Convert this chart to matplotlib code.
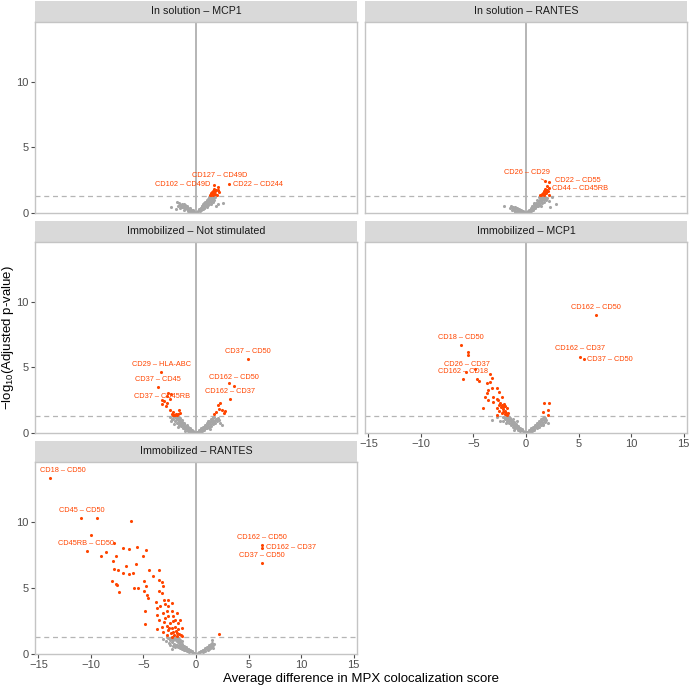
import math
import matplotlib
matplotlib.use("Agg")
import matplotlib.pyplot as plt

plt.rcParams['font.family'] = ['Liberation Sans', 'DejaVu Sans']
plt.rcParams['mathtext.fontset'] = 'custom'
plt.rcParams['mathtext.rm'] = 'Liberation Sans'
plt.rcParams['mathtext.it'] = 'Liberation Sans:italic'

# ---------------- data ----------------
PANEL_TITLES = ["In solution – MCP1", "In solution – RANTES",
                "Immobilized – Not stimulated", "Immobilized – MCP1",
                "Immobilized – RANTES"]
X_TICKS = [-15, -10, -5, 0, 5, 10, 15]
Y_TICKS = [0, 5, 10]
P_THRESHOLD = 0.05

# Panel 1: In solution – MCP1
SOL_MCP1_GREY = [(-0.1, 0.03), (-0.2, 0.08), (-0.3, 0.12), (-0.35, 0.05), (-0.4, 0.15), (-0.5, 0.2), (-0.5, 0.1),
                 (-0.6, 0.15), (-0.65, 0.28), (-0.7, 0.33), (-0.75, 0.22), (-0.8, 0.35), (-0.9, 0.4), (-0.9, 0.28),
                 (-1.0, 0.45), (-1.05, 0.35), (-1.1, 0.5), (-1.2, 0.55), (-1.2, 0.42), (-1.3, 0.6), (-1.4, 0.5),
                 (-1.55, 0.62), (-1.8, 0.85), (-1.9, 0.3), (-2.4, 0.48),
                 (-0.3, 0.2), (-0.45, 0.25), (-0.6, 0.35), (-0.85, 0.5), (-1.0, 0.6), (-1.15, 0.65), (-1.35, 0.7),
                 (-1.5, 0.4), (-1.7, 0.55), (-0.25, 0.15), (-0.55, 0.05), (-0.8, 0.12), (-1.1, 0.25), (-1.3, 0.45),
                 (-1.6, 0.75),
                 (0.1, 0.05), (0.2, 0.12), (0.3, 0.2), (0.35, 0.12), (0.4, 0.28), (0.5, 0.35), (0.5, 0.2),
                 (0.6, 0.42), (0.65, 0.3), (0.7, 0.5), (0.8, 0.58), (0.8, 0.4), (0.8, 0.8), (0.9, 0.66),
                 (0.95, 0.5), (1.0, 0.75), (1.0, 1.0), (1.1, 0.85), (1.1, 0.6), (1.2, 0.95), (1.2, 1.2),
                 (1.25, 0.72), (1.3, 1.05), (1.4, 1.15), (1.4, 0.85), (1.5, 1.25), (1.55, 0.95), (1.6, 1.1),
                 (1.7, 1.2), (1.9, 0.55), (2.1, 0.7), (2.6, 0.8),
                 (0.25, 0.25), (0.45, 0.4), (0.55, 0.5), (0.7, 0.65), (0.85, 0.7), (1.05, 0.9), (1.15, 1.05),
                 (1.3, 1.25), (1.35, 0.95), (1.5, 1.05), (1.6, 1.25), (1.75, 1.0), (1.45, 0.7), (0.6, 0.55),
                 (0.75, 0.35), (0.9, 0.85), (1.0, 0.45), (0.3, 0.3), (1.65, 0.85), (1.8, 1.25)]
SOL_MCP1_SIG = [(1.3, 1.35), (1.4, 1.4), (1.5, 1.45), (1.45, 1.5), (1.6, 1.5), (1.7, 1.55), (1.55, 1.6),
                (1.8, 1.65), (1.65, 1.7), (1.9, 1.75), (2.1, 1.75), (1.75, 1.8), (1.6, 1.35), (1.8, 1.45),
                (2.2, 1.6), (2.0, 1.4)]
SOL_MCP1_LABELED = [("CD127 – CD49D", 1.74, 2.14), ("CD102 – CD49D", 2.06, 1.96), ("CD22 – CD244", 3.14, 2.21)]

# Panel 2: In solution – RANTES
SOL_RANTES_GREY = [(-0.1, 0.02), (-0.2, 0.05), (-0.3, 0.08), (-0.4, 0.1), (-0.5, 0.15), (-0.6, 0.18), (-0.7, 0.22),
                   (-0.8, 0.25), (-0.9, 0.3), (-1.0, 0.33), (-1.1, 0.38), (-1.2, 0.42), (-1.3, 0.45), (-1.4, 0.5),
                   (-0.7, 0.1), (-0.9, 0.15), (-1.1, 0.2), (-1.25, 0.3), (-1.5, 0.35), (-2.07, 0.53), (-1.0, 0.05),
                   (-0.25, 0.12), (-0.45, 0.2), (-0.65, 0.3), (-0.85, 0.35), (-1.05, 0.45), (-1.3, 0.2),
                   (-0.55, 0.05),
                   (0.1, 0.05), (0.2, 0.12), (0.3, 0.18), (0.4, 0.25), (0.5, 0.32), (0.6, 0.4), (0.7, 0.48),
                   (0.8, 0.55), (0.9, 0.63), (1.0, 0.7), (1.1, 0.8), (1.2, 0.9), (1.3, 1.0), (1.4, 1.1),
                   (1.5, 1.2), (0.5, 0.15), (0.7, 0.25), (0.9, 0.35), (1.1, 0.5), (1.3, 0.6), (1.5, 0.75),
                   (1.7, 0.85), (1.9, 1.0), (1.6, 1.05), (1.8, 1.2), (1.2, 1.2), (1.0, 1.0), (2.2, 0.95),
                   (2.45, 1.2), (2.3, 0.45), (2.9, 0.7), (0.8, 0.8),
                   (0.25, 0.25), (0.45, 0.4), (0.6, 0.55), (0.75, 0.65), (0.95, 0.8), (1.15, 0.95), (1.35, 1.15),
                   (1.45, 0.9), (1.65, 1.2), (1.25, 0.75), (1.05, 0.55), (0.85, 0.45), (0.65, 0.3), (1.4, 0.5),
                   (1.75, 1.05), (2.0, 1.15), (1.55, 1.0), (0.35, 0.1)]
SOL_RANTES_SIG = [(1.35, 1.35), (1.45, 1.4), (1.55, 1.45), (1.7, 1.4), (1.6, 1.55), (1.8, 1.55), (1.9, 1.6),
                  (1.7, 1.7), (2.0, 1.75), (1.85, 1.8), (2.1, 1.65), (1.95, 1.5), (2.2, 1.4), (1.97, 2.06)]
SOL_RANTES_LABELED = [("CD26 – CD29", 1.81, 2.47), ("CD22 – CD55", 2.19, 2.37), ("CD44 – CD45RB", 2.22, 1.91)]

# Panel 3: Immobilized – Not stimulated
IMM_NS_GREY = [(-0.1, 0.03), (-0.2, 0.07), (-0.3, 0.12), (-0.4, 0.16), (-0.5, 0.2), (-0.6, 0.25), (-0.7, 0.3),
               (-0.8, 0.36), (-0.9, 0.42), (-1.0, 0.48), (-1.1, 0.55), (-1.2, 0.62), (-1.3, 0.7), (-1.4, 0.78),
               (-1.5, 0.86), (-1.6, 0.95), (-1.7, 1.05), (-1.8, 1.15), (-1.9, 1.25), (-2.0, 1.2), (-2.2, 1.28),
               (-0.6, 0.1), (-0.8, 0.18), (-1.0, 0.28), (-1.2, 0.38), (-1.4, 0.5), (-1.6, 0.62), (-1.8, 0.75),
               (-2.0, 0.9), (-2.3, 1.05), (-1.3, 1.0), (-1.5, 1.15), (-1.1, 0.8), (-2.5, 1.2), (-0.9, 0.6),
               (-0.35, 0.25), (-0.55, 0.35), (-0.75, 0.45), (-0.95, 0.55), (-1.15, 0.7), (-1.35, 0.85),
               (-1.55, 1.0), (-1.75, 1.2), (-1.65, 0.8), (-1.45, 0.65), (-1.25, 0.5), (-1.05, 0.4), (-0.85, 0.28),
               (-1.95, 1.0), (-2.15, 1.1), (-2.1, 0.7), (-1.75, 0.45), (-2.4, 0.95), (-1.0, 0.15),
               (0.1, 0.04), (0.2, 0.1), (0.3, 0.15), (0.4, 0.2), (0.5, 0.26), (0.6, 0.32), (0.7, 0.38),
               (0.8, 0.45), (0.9, 0.52), (1.0, 0.6), (1.1, 0.68), (1.2, 0.76), (1.3, 0.85), (1.4, 0.94),
               (1.5, 1.03), (1.6, 1.12), (1.7, 1.22), (0.6, 0.15), (0.8, 0.25), (1.0, 0.35), (1.2, 0.45),
               (1.4, 0.55), (1.6, 0.65), (1.8, 0.78), (2.0, 0.9), (2.2, 1.0), (1.9, 1.1), (1.1, 0.95),
               (2.3, 0.8), (2.5, 0.6),
               (0.25, 0.22), (0.45, 0.35), (0.65, 0.48), (0.85, 0.6), (1.05, 0.75), (1.25, 0.9), (1.45, 1.05),
               (1.65, 1.25), (1.55, 0.85), (1.35, 0.7), (1.15, 0.55), (0.95, 0.4), (0.75, 0.3), (1.75, 0.95),
               (1.95, 1.0), (2.1, 1.15), (1.3, 0.3), (0.5, 0.1)]
IMM_NS_SIG = [(-2.8, 2.85), (-3.2, 2.52), (-3.01, 2.42), (-2.79, 2.31), (-3.27, 2.21), (-2.9, 2.06),
              (-2.48, 1.76), (-2.17, 1.63), (-1.66, 1.76), (-2.33, 1.45), (-2.0, 1.37), (-1.7, 1.43),
              (-1.54, 1.5), (-2.1, 1.4), (-1.9, 1.45), (-1.8, 1.35), (-2.2, 1.35), (-2.5, 2.6), (-2.4, 3.0),
              (3.62, 3.61), (2.29, 2.31), (2.06, 2.11), (2.19, 1.81), (2.44, 1.76), (1.9, 1.63), (2.79, 1.68),
              (1.71, 1.45), (2.67, 1.5)]
IMM_NS_LABELED = [("CD29 – HLA-ABC", -3.33, 4.63), ("CD37 – CD45", -3.62, 3.54), ("CD37 – CD45RB", -2.64, 3.08),
                  ("CD37 – CD50", 4.92, 5.62), ("CD162 – CD50", 3.11, 3.82), ("CD162 – CD37", 3.24, 2.57)]

# Panel 4: Immobilized – MCP1
IMM_MCP1_GREY = [(-0.1, 0.04), (-0.2, 0.1), (-0.3, 0.15), (-0.4, 0.2), (-0.5, 0.27), (-0.6, 0.33), (-0.7, 0.4),
                 (-0.8, 0.47), (-0.9, 0.55), (-1.0, 0.63), (-1.1, 0.72), (-1.2, 0.8), (-1.3, 0.9), (-1.4, 1.0),
                 (-1.5, 1.1), (-1.6, 1.2), (-1.7, 1.28), (-0.6, 0.15), (-0.8, 0.25), (-1.0, 0.35), (-1.2, 0.48),
                 (-1.4, 0.6), (-1.6, 0.75), (-1.8, 0.9), (-2.0, 1.05), (-2.2, 1.2), (-1.9, 1.25), (-1.2, 1.1),
                 (-2.79, 1.2), (-3.27, 1.0), (-2.5, 0.9), (-0.9, 0.9),
                 (-0.35, 0.28), (-0.55, 0.4), (-0.75, 0.52), (-0.95, 0.65), (-1.15, 0.82), (-1.35, 0.95),
                 (-1.55, 1.15), (-1.75, 1.1), (-1.45, 0.8), (-1.25, 0.65), (-1.05, 0.5), (-0.85, 0.38),
                 (-1.65, 0.95), (-1.85, 1.05), (-2.05, 1.25), (-1.95, 0.8), (-1.1, 0.2), (-2.2, 0.95),
                 (0.1, 0.04), (0.2, 0.1), (0.3, 0.15), (0.4, 0.2), (0.5, 0.26), (0.6, 0.32), (0.7, 0.39),
                 (0.8, 0.46), (0.9, 0.53), (1.0, 0.6), (1.1, 0.68), (1.2, 0.77), (1.3, 0.86), (1.4, 0.95),
                 (1.5, 1.05), (1.6, 1.15), (0.6, 0.15), (0.8, 0.25), (1.0, 0.35), (1.2, 0.45), (1.4, 0.58),
                 (1.6, 0.7), (1.8, 0.85), (1.95, 1.0), (1.7, 1.2), (2.1, 0.75),
                 (0.25, 0.22), (0.45, 0.35), (0.65, 0.48), (0.85, 0.6), (1.05, 0.75), (1.25, 0.9), (1.45, 1.05),
                 (1.55, 0.85), (1.35, 0.7), (1.15, 0.55), (0.95, 0.42), (0.75, 0.3), (1.75, 1.0), (1.85, 1.15),
                 (1.65, 0.6), (0.4, 0.05)]
IMM_MCP1_SIG = [(-5.49, 6.16), (-5.55, 5.95), (-5.97, 4.1), (-4.63, 4.1), (-4.44, 3.97), (-3.43, 4.5), (-3.2, 4.17),
                (-3.43, 3.92), (-3.74, 3.84), (-3.65, 3.28), (-3.27, 3.41), (-2.79, 3.41), (-2.54, 3.15),
                (-3.74, 3.03), (-3.9, 2.77), (-3.11, 2.77), (-2.79, 2.6), (-2.25, 2.77), (-4.06, 1.88),
                (-3.59, 2.52), (-3.11, 2.39), (-2.63, 2.52), (-2.48, 2.27), (-2.32, 2.14), (-2.16, 1.96),
                (-2.0, 2.06), (-2.73, 1.88), (-1.84, 1.88), (-2.54, 1.7), (-2.16, 1.63), (-1.97, 1.7),
                (-2.32, 1.5), (-2.0, 1.45), (-1.75, 1.55), (-2.79, 1.37), (-1.84, 1.37), (-2.2, 1.8),
                (-2.4, 1.95), (-2.1, 2.2), (-1.9, 1.5), (-2.6, 2.1),
                (1.75, 2.27), (2.19, 2.31), (2.13, 1.76), (1.65, 1.63), (2.06, 1.37)]
IMM_MCP1_LABELED = [("CD162 – CD50", 6.67, 8.98), ("CD162 – CD37", 5.11, 5.83), ("CD37 – CD50", 5.52, 5.62),
                    ("CD18 – CD50", -6.22, 6.72), ("CD26 – CD37", -4.86, 4.86), ("CD162 – CD18", -5.72, 4.66)]

# Panel 5: Immobilized – RANTES
IMM_RANTES_GREY = [(-0.1, 0.03), (-0.2, 0.07), (-0.3, 0.11), (-0.4, 0.15), (-0.5, 0.2), (-0.6, 0.25), (-0.7, 0.3),
                   (-0.8, 0.35), (-0.9, 0.4), (-1.0, 0.46), (-1.1, 0.52), (-1.2, 0.58), (-1.3, 0.64), (-1.4, 0.7),
                   (-1.5, 0.77), (-1.6, 0.84), (-1.7, 0.91), (-1.8, 0.98), (-1.9, 1.05), (-2.0, 1.12), (-2.1, 1.2),
                   (-2.2, 1.27), (-0.7, 0.12), (-0.9, 0.2), (-1.1, 0.28), (-1.3, 0.36), (-1.5, 0.45), (-1.7, 0.55),
                   (-1.9, 0.65), (-2.1, 0.78), (-2.3, 0.9), (-2.5, 1.05), (-2.7, 1.2), (-2.4, 1.25), (-1.6, 1.15),
                   (-1.3, 0.95), (-3.17, 1.12), (-2.32, 0.36), (-2.9, 1.0), (-1.9, 1.28),
                   (-0.35, 0.2), (-0.55, 0.3), (-0.75, 0.4), (-0.95, 0.52), (-1.15, 0.64), (-1.35, 0.76),
                   (-1.55, 0.9), (-1.75, 1.02), (-1.95, 1.15), (-2.15, 1.05), (-2.35, 1.15), (-2.55, 1.25),
                   (-2.2, 0.6), (-2.0, 0.5), (-1.8, 0.7), (-1.6, 0.6), (-1.4, 0.5), (-1.2, 0.4), (-1.0, 0.3),
                   (-2.6, 0.8), (-2.8, 1.3), (-1.75, 1.25), (-1.5, 1.05), (-2.45, 0.7),
                   (0.1, 0.03), (0.2, 0.07), (0.3, 0.11), (0.4, 0.15), (0.5, 0.2), (0.6, 0.24), (0.7, 0.29),
                   (0.8, 0.34), (0.9, 0.39), (1.0, 0.44), (1.1, 0.5), (1.2, 0.55), (1.3, 0.6), (1.4, 0.65),
                   (1.5, 0.7), (1.2, 0.35), (1.35, 0.45), (1.55, 0.55), (1.65, 0.48), (1.49, 1.07), (1.33, 0.43),
                   (0.9, 0.2),
                   (0.25, 0.12), (0.45, 0.22), (0.65, 0.33), (0.85, 0.42), (1.05, 0.52), (1.25, 0.65), (1.45, 0.75),
                   (1.6, 0.65), (1.4, 0.55), (1.1, 0.3), (0.7, 0.15), (1.55, 0.85), (1.7, 0.75)]
IMM_RANTES_SIG = [(-9.43, 10.33), (-6.19, 10.1), (-10.03, 9.06), (-10.41, 7.81), (-9.08, 7.43), (-8.57, 7.74),
                  (-7.62, 7.43), (-6.92, 8.07), (-6.35, 7.99), (-5.65, 8.11), (-4.76, 7.86), (-5.08, 7.43),
                  (-7.87, 7.1), (-6.7, 6.72), (-5.74, 6.87), (-7.81, 6.46), (-7.46, 6.36), (-6.98, 6.16),
                  (-6.35, 6.11), (-6.03, 6.16), (-4.44, 6.41), (-4.12, 5.9), (-3.55, 6.41), (-8.03, 5.52),
                  (-7.62, 5.34), (-7.49, 5.27), (-7.3, 4.68), (-5.9, 5.01), (-5.55, 5.01), (-4.92, 5.52),
                  (-4.76, 5.14), (-4.92, 4.76), (-4.67, 4.5), (-4.6, 4.22), (-3.49, 5.65), (-3.27, 5.44),
                  (-3.11, 5.14), (-3.49, 4.76), (-3.24, 4.63), (-3.05, 4.12), (-2.7, 4.12), (-4.83, 3.23),
                  (-4.83, 2.27), (-3.81, 3.92), (-3.75, 3.49), (-3.43, 3.61), (-2.95, 3.82), (-2.64, 3.61),
                  (-2.32, 3.87), (-3.75, 2.98), (-3.17, 3.1), (-2.79, 3.23), (-2.32, 3.23), (-3.49, 2.6),
                  (-2.95, 2.72), (-2.64, 2.85), (-2.16, 2.9), (-1.84, 3.1), (-3.75, 1.88), (-3.27, 2.08),
                  (-2.79, 2.14), (-2.48, 2.39), (-2.16, 2.47), (-1.69, 2.34), (-1.52, 2.6), (-3.11, 1.7),
                  (-2.64, 1.83), (-2.32, 1.96), (-2.0, 2.04), (-1.69, 1.88), (-1.36, 1.96), (-2.79, 1.45),
                  (-2.41, 1.58), (-2.1, 1.45), (-1.78, 1.58), (-1.46, 1.45), (-2.32, 1.32), (-1.84, 1.37),
                  (-1.3, 1.37), (-2.2, 1.7), (-1.9, 1.75), (-2.6, 2.0), (-2.0, 2.6), (-3.0, 2.4), (-1.6, 1.5),
                  (2.19, 1.5)]
IMM_RANTES_LABELED = [("CD18 – CD50", -13.9, 13.36), ("CD45 – CD50", -10.92, 10.33),
                      ("CD45RB – CD50", -7.84, 8.45), ("CD162 – CD50", 6.32, 8.27),
                      ("CD162 – CD37", 6.25, 8.07), ("CD37 – CD50", 6.25, 6.89)]

GREY_SETS = [SOL_MCP1_GREY, SOL_RANTES_GREY, IMM_NS_GREY, IMM_MCP1_GREY, IMM_RANTES_GREY]
SIG_SETS = [SOL_MCP1_SIG, SOL_RANTES_SIG, IMM_NS_SIG, IMM_MCP1_SIG, IMM_RANTES_SIG]
LABEL_SETS = [SOL_MCP1_LABELED, SOL_RANTES_LABELED, IMM_NS_LABELED, IMM_MCP1_LABELED, IMM_RANTES_LABELED]

# ---------------- layout (label offsets in pixels: dx, dy, ha, draw segment) ----------------
LABEL_OFFSETS = [
    [(5, 9, 'center', False), (-7, 3, 'right', False), (4, 0, 'left', False)],
    [(-18, 8, 'center', True), (6, 1, 'left', False), (3, -1, 'left', False)],
    [(0, 8, 'center', False), (0, 7.5, 'center', False), (-6.5, -4, 'center', False),
     (0, 7.6, 'center', False), (5.3, 5, 'center', False), (0, 7.6, 'center', False)],
    [(0, 7.6, 'center', False), (0, 7.7, 'center', False), (3.3, 0, 'left', False),
     (0, 7.3, 'center', False), (-8.3, 5.3, 'center', False), (-2.7, 0, 'center', False)],
    [(12.7, 7.7, 'center', False), (0, 7, 'center', False), (-27.7, -0.7, 'center', False),
     (0, 7.4, 'center', False), (4, 0, 'left', False), (0, 7.7, 'center', False)],
]

W, H = 689, 687
fig = plt.figure(figsize=(W / 100, H / 100), dpi=100)
fig.patch.set_facecolor('white')

COLS = [(35, 357), (365, 687)]
ROWS = [(1, 22, 213), (221, 242, 433), (441, 462, 654)]

GREY = '#a6a6a6'
ORANGE = '#ff4500'
BORDER = '#c4c4c4'
TICKC = '#4d4d4d'
PT_SIZE = 5.0


def rect(l, t, r, b):
    return [l / W, 1 - b / H, (r - l) / W, (b - t) / H]


thr = -math.log10(P_THRESHOLD)

for i, title in enumerate(PANEL_TITLES):
    row, col = divmod(i, 2)
    l, r = COLS[col]
    st, pt, pb = ROWS[row]
    # strip
    sax = fig.add_axes(rect(l, st, r, pt))
    sax.set_facecolor('#d9d9d9')
    sax.set_xticks([]); sax.set_yticks([])
    for s in sax.spines.values():
        s.set_visible(False)
    sax.text(0.5, 0.5, title, ha='center', va='center', fontsize=7.7, color='#1a1a1a',
             transform=sax.transAxes)
    # panel
    ax = fig.add_axes(rect(l, pt, r, pb))
    ax.set_xlim(-15.33, 15.33)
    ax.set_ylim(0, 14.58)
    for s in ax.spines.values():
        s.set_color(BORDER)
        s.set_linewidth(1.0)
    ax.axvline(0, color='#a9a9a9', lw=1.2, zorder=1)
    ax.axhline(thr, color='#b5b5b5', lw=0.9, ls=(0, (4, 3)), zorder=1)
    gx = [p[0] for p in GREY_SETS[i]]
    gy = [p[1] for p in GREY_SETS[i]]
    ax.scatter(gx, gy, s=PT_SIZE, c=GREY, linewidths=0, zorder=2)
    sx = [p[0] for p in SIG_SETS[i]]
    sy = [p[1] for p in SIG_SETS[i]]
    ax.scatter(sx, sy, s=PT_SIZE, c=ORANGE, linewidths=0, zorder=3)
    lx = [p[1] for p in LABEL_SETS[i]]
    ly = [p[2] for p in LABEL_SETS[i]]
    ax.scatter(lx, ly, s=PT_SIZE, c=ORANGE, linewidths=0, zorder=3)
    for (name, px, py), (dx, dy, ha, seg) in zip(LABEL_SETS[i], LABEL_OFFSETS[i]):
        kw = {}
        if seg:
            kw['arrowprops'] = dict(arrowstyle='-', color=ORANGE, lw=0.5, shrinkA=0, shrinkB=1)
        ax.annotate(name, (px, py), xytext=(dx, dy), textcoords='offset pixels',
                    ha=ha, va='center', fontsize=5.3, color=ORANGE, zorder=4, **kw)
    ax.set_xticks(X_TICKS)
    ax.set_yticks(Y_TICKS)
    ax.tick_params(colors=TICKC, length=3, width=0.8, labelsize=8, pad=1.5)
    ax.set_xticklabels([str(t).replace('-', '−') for t in X_TICKS])
    show_x = (row == 2) or (i == 3)
    if not show_x:
        ax.tick_params(axis='x', length=0, labelbottom=False)
    if col != 0:
        ax.tick_params(axis='y', length=0, labelleft=False)

fig.text(361 / W, 1 - 679 / H, 'Average difference in MPX colocalization score',
         ha='center', va='center', fontsize=9.5)
fig.text(8 / W, 1 - 338 / H, '−log$_{10}$(Adjusted p-value)', rotation=90,
         ha='center', va='center', fontsize=9.5)

fig.savefig('out.png', dpi=100, facecolor='white')
